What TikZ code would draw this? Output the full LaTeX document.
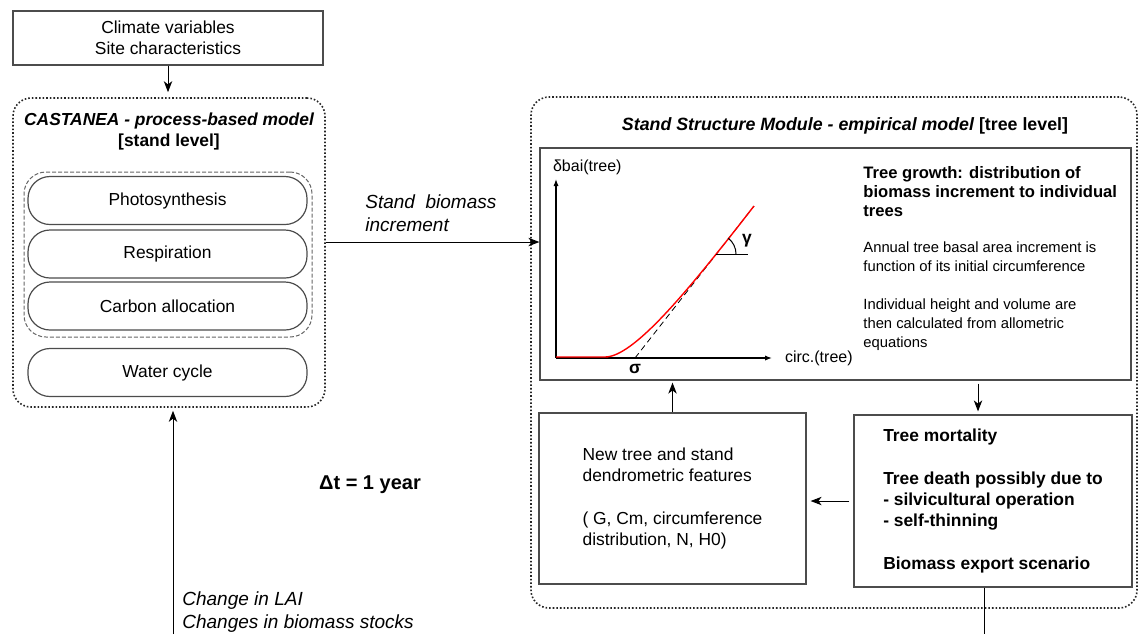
\documentclass[tikz,border=0pt]{standalone}
\usepackage{fontspec}
\setmainfont{Liberation Sans}
\usetikzlibrary{arrows.meta}

\newcommand{\mainsize}{\fontsize{8.7}{10.5}\selectfont}
\newcommand{\graphsize}{\fontsize{7.4}{9.5}\selectfont}
\newcommand{\labelsize}{\fontsize{9.5}{11.5}\selectfont}

\tikzset{
  box/.style={draw=black!70, line width=0.6pt, inner sep=0pt, align=center},
  roundbox/.style={box, rounded corners=11pt, minimum width=139.5pt, minimum height=24pt},
  modulebox/.style={draw=black!85, line width=0.8pt, densely dotted, rounded corners=9pt, inner sep=0pt},
  flow/.style={-{Stealth[length=5.5pt,width=4.2pt,inset=1.6pt]}, line width=0.5pt},
  axis/.style={-{Latex[length=3.5pt,width=2.6pt]}, line width=0.6pt},
  txt/.style={inner sep=0pt, align=left},
}

\begin{document}
\begin{tikzpicture}[x=0.5pt,y=-0.5pt,every node/.style={font=\mainsize}]
\useasboundingbox (0,0) rectangle (1138,634);

\node[box, minimum width=155pt, minimum height=27pt] (climate) at (168,38) {Climate variables\\Site characteristics};
\node[modulebox, minimum width=156pt, minimum height=154.5pt] (castanea) at (169,252.5) {};
\node[txt, align=center, anchor=base] (castaneatitle) at (169,146) {\bfseries\itshape CASTANEA - process-based model\\\bfseries [stand level]};
\node[box, draw=black!60, line width=0.5pt, dash pattern=on 2pt off 1pt, rounded corners=11pt, minimum width=144pt, minimum height=82.5pt] (cycle) at (168,254.5) {};
\node[roundbox] (photo) at (167.5,200.5) {Photosynthesis};
\node[roundbox] (resp) at (167.5,254) {Respiration};
\node[roundbox] (carbon) at (167.5,306) {Carbon allocation};
\node[roundbox] (water) at (167.5,372.5) {Water cycle};

\node[modulebox, minimum width=303pt, minimum height=255.5pt] (module) at (834,352.5) {};
\node[anchor=base, font=\fontsize{8.9}{10.5}\selectfont] (moduletitle) at (845,130) {\bfseries\itshape Stand Structure Module - empirical model \upshape [tree level]};
\node[box, minimum width=295.5pt, minimum height=116pt] (graph) at (835.5,264) {};

\coordinate (origin) at (556,358);
\draw[axis] (origin) -- (556,179);
\draw[axis] (origin) -- (772,358);
\node[anchor=west, font=\fontsize{8}{9.5}\selectfont] (ylabel) at (546,167) {δbai(tree)};
\node[anchor=west, font=\fontsize{8}{9.5}\selectfont] (xlabel) at (778,358) {circ.(tree)};
\draw[densely dashed, line width=0.4pt] (635,358) -- (754,206);
\draw[red, line width=0.7pt] (556,357) -- (605,357) .. controls (633,357) and (685,294) .. (740,224) -- (754,206);
\node[font=\mainsize\bfseries] (sigma) at (635,369) {σ};
\draw[line width=0.5pt] (716,254) -- (748,254);
\draw[line width=0.5pt] (736,254) arc[start angle=0, end angle=52, radius=10pt];
\node[font=\mainsize\bfseries] (gamma) at (747,241) {γ};

\node[txt, anchor=base west, font=\fontsize{8.3}{9.5}\selectfont\bfseries] (growth) at (863,216) {Tree growth: distribution of\\biomass increment to individual\\trees};
\node[txt, anchor=base west, font=\graphsize] (basal) at (863,271) {Annual tree basal area increment is\\function of its initial circumference};
\node[txt, anchor=base west, font=\graphsize] (allom) at (863,347) {Individual height and volume are\\then calculated from allometric\\equations};

\node[box, align=left, minimum width=133.5pt, minimum height=85.5pt] (newtree) at (672.5,498.5) {New tree and stand\\dendrometric features\\[11pt]( G, Cm, circumference\\distribution, N, H0)};
\node[box, align=left, minimum width=139pt, minimum height=86pt, font=\mainsize\bfseries] (mortality) at (993,501) {Tree mortality\\[11pt]Tree death possibly due to\\- silvicultural operation\\- self-thinning\\[11pt]Biomass export scenario};

\draw[flow, shorten >=2.5pt] (climate.south) -- (climate.south |- castanea.north);
\coordinate (incy) at (0,242);
\draw[flow] (castanea.east |- incy) -- (graph.west |- incy);
\node[txt, anchor=base west, font=\labelsize\itshape] (inclabel) at (365,231) {Stand\ \ biomass\\increment};
\draw[flow, shorten >=1pt] (newtree.north) -- (newtree.north |- graph.south);
\coordinate (downx) at (978,0);
\draw[flow, shorten <=1.5pt, shorten >=1.5pt] (graph.south -| downx) -- (mortality.north -| downx);
\draw[flow, shorten <=2pt, shorten >=2pt] (mortality.west) -- (newtree.east |- mortality.west);
\coordinate (exportend) at (984,634);
\draw[line width=0.5pt] (mortality.south -| exportend) -- (exportend);
\coordinate (laistart) at (173,634);
\draw[flow, shorten >=1.5pt] (laistart) -- (laistart |- castanea.south);
\node[txt, anchor=base west, font=\labelsize\itshape] (lailabel) at (182,628) {Change in LAI\\Changes in biomass stocks};
\node[font=\fontsize{10}{12}\selectfont\bfseries] (dt) at (370,485) {Δt = 1 year};
\end{tikzpicture}
\end{document}
